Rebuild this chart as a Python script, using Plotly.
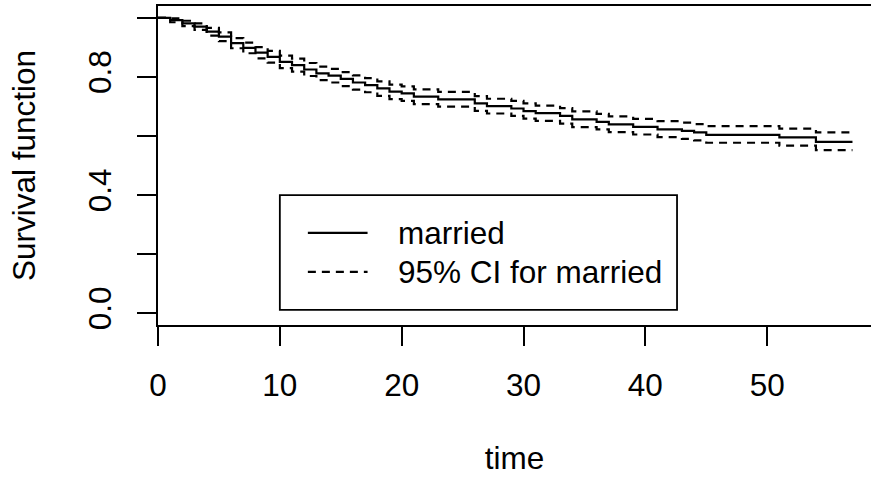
import plotly.graph_objects as go

# Kaplan-Meier estimate for the "married" group (step starts) and its 95% CI
time = [0, 1, 2, 3, 4, 5, 6, 7, 8, 9, 10, 11, 12, 13, 14, 15, 16, 17, 18, 19,
        20, 21, 23, 26, 27, 29, 30, 31, 33, 34, 36, 37, 39, 41, 43, 44, 45,
        51, 54, 57]
surv = [1.000, 0.992, 0.981, 0.970, 0.953, 0.936, 0.914, 0.898, 0.882, 0.868,
        0.851, 0.840, 0.825, 0.812, 0.804, 0.793, 0.781, 0.772, 0.761, 0.750,
        0.744, 0.733, 0.724, 0.710, 0.701, 0.693, 0.684, 0.677, 0.668, 0.656,
        0.648, 0.639, 0.631, 0.622, 0.617, 0.612, 0.604, 0.595, 0.580, 0.580]
upper = [1.000, 0.998, 0.990, 0.981, 0.966, 0.951, 0.931, 0.916, 0.901, 0.888,
         0.872, 0.862, 0.847, 0.835, 0.827, 0.816, 0.805, 0.796, 0.785, 0.774,
         0.768, 0.758, 0.749, 0.735, 0.726, 0.719, 0.710, 0.703, 0.694, 0.683,
         0.675, 0.666, 0.658, 0.650, 0.645, 0.640, 0.633, 0.625, 0.612, 0.612]
lower = [1.000, 0.985, 0.972, 0.959, 0.940, 0.921, 0.897, 0.880, 0.863, 0.848,
         0.830, 0.818, 0.803, 0.789, 0.781, 0.769, 0.757, 0.748, 0.736, 0.725,
         0.719, 0.708, 0.699, 0.685, 0.676, 0.668, 0.659, 0.651, 0.642, 0.630,
         0.622, 0.613, 0.605, 0.596, 0.590, 0.585, 0.577, 0.567, 0.552, 0.552]

x_ticks = [0, 10, 20, 30, 40, 50]
y_ticks = [0.0, 0.2, 0.4, 0.6, 0.8, 1.0]
y_tick_text = ["0.0", "", "0.4", "", "0.8", ""]
legend_labels = ["married", "95% CI for married"]

FONT = "Liberation Sans, Arial, Helvetica, sans-serif"
FS = 31.5
DASH = "8px,6px"

fig = go.Figure()
fig.add_trace(go.Scatter(x=time, y=surv, mode="lines", line_shape="hv",
                         line=dict(color="black", width=2.2), name=legend_labels[0]))
fig.add_trace(go.Scatter(x=time, y=upper, mode="lines", line_shape="hv",
                         line=dict(color="black", width=2.2, dash=DASH),
                         name=legend_labels[1]))
fig.add_trace(go.Scatter(x=time, y=lower, mode="lines", line_shape="hv",
                         line=dict(color="black", width=2.2, dash=DASH),
                         name=legend_labels[1], showlegend=False))

# legend box in data coordinates
lg_x0, lg_x1, lg_y0, lg_y1 = 10.0, 42.6, 0.011, 0.400
sample_x0, sample_x1, text_x = 12.3, 17.2, 19.5
row_y = [0.272, 0.140]
fig.add_shape(type="rect", xref="x", yref="y", x0=lg_x0, x1=lg_x1, y0=lg_y0, y1=lg_y1,
              line=dict(color="black", width=1.8), fillcolor="white", layer="above")
for i, (lab, yy) in enumerate(zip(legend_labels, row_y)):
    fig.add_shape(type="line", xref="x", yref="y", x0=sample_x0, x1=sample_x1, y0=yy, y1=yy,
                  line=dict(color="black", width=2.2, dash=None if i == 0 else DASH))
    fig.add_annotation(x=text_x, y=yy, xref="x", yref="y", text=lab, showarrow=False,
                       xanchor="left", yanchor="middle",
                       font=dict(family=FONT, size=FS, color="black"))

fig.update_layout(
    width=871, height=477,
    margin=dict(l=158, r=0, t=6, b=152),
    paper_bgcolor="white", plot_bgcolor="white",
    showlegend=False,
    font=dict(family=FONT, size=FS, color="black"),
    xaxis=dict(range=[0, 58.52], tickvals=x_ticks, ticks="outside", ticklen=19,
               tickwidth=2, tickcolor="black", showline=True, mirror=True,
               linecolor="black", linewidth=2, showgrid=False, zeroline=False,
               ticklabelstandoff=12,
               title=dict(text="time", standoff=45, font=dict(size=FS))),
    yaxis=dict(range=[-0.04, 1.04], tickvals=y_ticks, ticktext=y_tick_text,
               tickangle=-90, ticks="outside", ticklen=19, tickwidth=2,
               tickcolor="black", showline=True, mirror=False, linecolor="black",
               linewidth=2, showgrid=False, zeroline=False, ticklabelstandoff=13,
               title=dict(text="Survival function", standoff=37, font=dict(size=FS))),
)

fig.write_html("out.html")
